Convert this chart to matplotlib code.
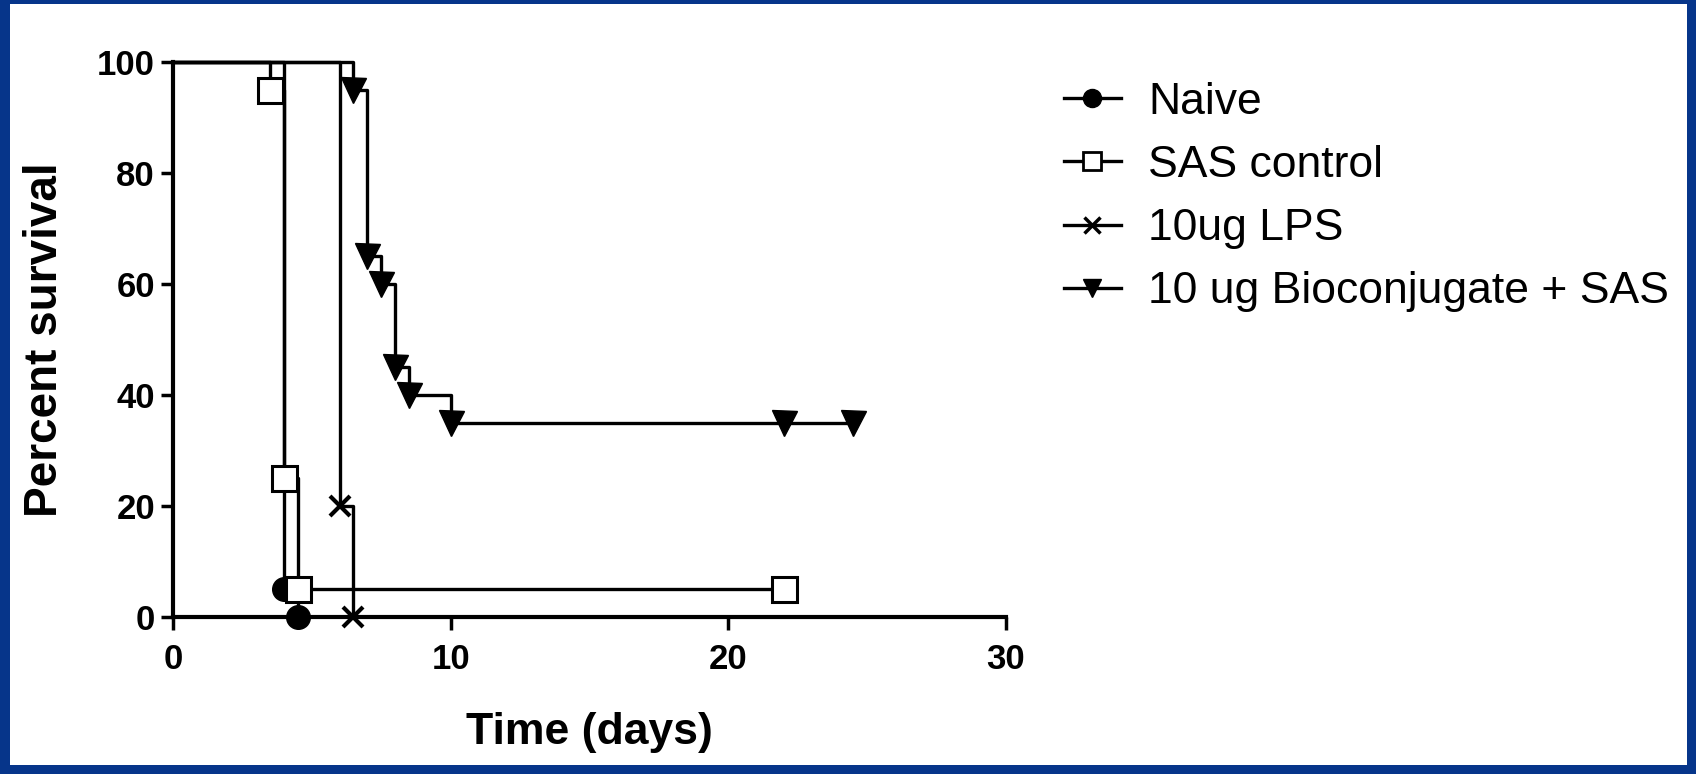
import matplotlib
matplotlib.use("Agg")
import matplotlib.pyplot as plt
from matplotlib.lines import Line2D
from matplotlib.patches import Rectangle

plt.rcParams['font.family'] = ['Liberation Sans', 'DejaVu Sans']

# survival curves: time (days) and percent survival at each step
naive_t = [0, 4.0, 4.5]
naive_s = [100, 5, 0]

sas_t = [0, 3.5, 4.0, 4.5, 22.0]
sas_s = [100, 95, 25, 5, 5]

lps_t = [0, 6.0, 6.5]
lps_s = [100, 20, 0]

bio_t = [0, 6.5, 7.0, 7.5, 8.0, 8.5, 10.0, 22.0, 24.5]
bio_s = [100, 95, 65, 60, 45, 40, 35, 35, 35]

labels = ['Naive', 'SAS control', '10ug LPS', '10 ug Bioconjugate + SAS']
xticks = [0, 10, 20, 30]
yticks = [0, 20, 40, 60, 80, 100]

fig = plt.figure(figsize=(16.96, 7.74), dpi=100)
fig.patch.set_facecolor('white')
ax = fig.add_axes([0.102, 0.203, 0.491, 0.717])

styles = [
    (naive_t, naive_s, dict(marker='o', mfc='black', ms=17)),
    (sas_t, sas_s, dict(marker='s', mfc='white', ms=18, mew=2.2)),
    (lps_t, lps_s, dict(marker='x', mfc='black', ms=15, mew=3)),
    (bio_t, bio_s, dict(marker='v', mfc='black', ms=18)),
]
for t, s, st in styles:
    ax.plot(t, s, drawstyle='steps-post', color='black', lw=2.4,
            mec='black', markevery=slice(1, None), clip_on=False, **st)

ax.set_xlim(0, 30)
ax.set_ylim(0, 100)
ax.set_xticks(xticks)
ax.set_yticks(yticks)
for side in ['top', 'right']:
    ax.spines[side].set_visible(False)
for side in ['left', 'bottom']:
    ax.spines[side].set_linewidth(3)
ax.tick_params(axis='both', width=2.5, length=9, labelsize=25, pad=4)
ax.tick_params(axis='x', pad=10)
for lab in ax.get_xticklabels() + ax.get_yticklabels():
    lab.set_fontweight('bold')

ax.set_xlabel('Time (days)', fontsize=32, fontweight='bold', labelpad=26)
ax.set_ylabel('Percent survival', fontsize=33, fontweight='bold', labelpad=22)

handles = [
    Line2D([], [], color='black', lw=2.4, marker='o', ms=13, mfc='black', mec='black'),
    Line2D([], [], color='black', lw=2.4, marker='s', ms=13, mfc='white', mec='black', mew=2),
    Line2D([], [], color='black', lw=2.4, marker='x', ms=11, mec='black', mew=2.5),
    Line2D([], [], color='black', lw=2.4, marker='v', ms=13, mfc='black', mec='black'),
]
ax.legend(handles, labels, loc='upper left', bbox_to_anchor=(0.614, 0.923),
          bbox_transform=fig.transFigure, frameon=False, fontsize=32,
          borderpad=0, handlelength=1.3, handletextpad=0.6, labelspacing=0.5)

# dark blue slide border
blue = '#06358a'
for x, y, w, h in [(0, 0, 0.006, 1), (0.9948, 0, 0.0052, 1),
                   (0, 0.995, 1, 0.005), (0, 0, 1, 0.012)]:
    fig.patches.append(Rectangle((x, y), w, h, transform=fig.transFigure,
                                 facecolor=blue, edgecolor='none', zorder=10))

fig.savefig('out.png', dpi=100)
